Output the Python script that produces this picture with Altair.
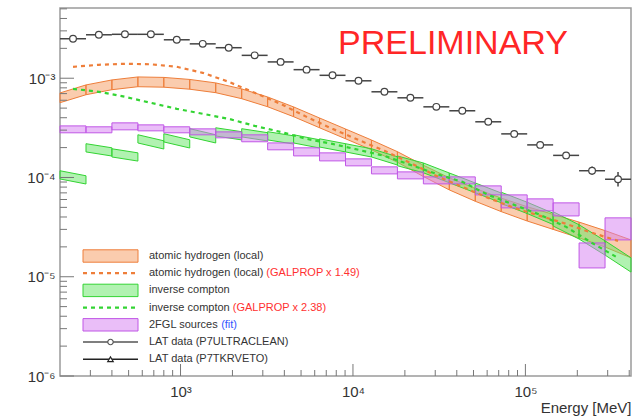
import altair as alt
import pandas as pd

FONT = "Liberation Sans"

# Energy binning [MeV]: factor sqrt(2) bins from 200 MeV
bin_edges = [200, 283, 400, 566, 800, 1131, 1600, 2263, 3200, 4525, 6400, 9051,
             12800, 18102, 25600, 36204, 51200, 72408, 102400, 144815, 204800,
             289631, 409600]
bin_centers = [238, 336, 476, 673, 951, 1345, 1903, 2691, 3805, 5382, 7611,
               10763, 15222, 21527, 30444, 43054, 60887, 86108, 121775,
               172216, 243550, 344432]

# LAT data (P7ULTRACLEAN): flux per bin and fractional error
lat_flux = [2.50e-3, 2.74e-3, 2.77e-3, 2.77e-3, 2.44e-3, 2.22e-3, 2.03e-3,
            1.70e-3, 1.46e-3, 1.22e-3, 1.07e-3, 9.42e-4, 7.30e-4, 6.35e-4,
            5.15e-4, 4.70e-4, 3.64e-4, 2.75e-4, 2.13e-4, 1.67e-4, 1.17e-4,
            9.6e-5]
lat_err = [0.02, 0.02, 0.02, 0.02, 0.02, 0.02, 0.02, 0.02, 0.02, 0.02, 0.02,
           0.02, 0.02, 0.02, 0.03, 0.03, 0.03, 0.04, 0.04, 0.06, 0.10, 0.18]

# Atomic hydrogen (local) fit: band centre at bin edges and fractional width
hi_flux = [6.35e-4, 7.64e-4, 8.58e-4, 9.20e-4, 9.10e-4, 8.68e-4, 8.01e-4,
           6.97e-4, 5.78e-4, 4.59e-4, 3.55e-4, 2.75e-4, 2.13e-4, 1.61e-4,
           1.166e-4, 8.62e-5, 6.68e-5, 5.30e-5, 4.30e-5, 3.57e-5, 2.96e-5,
           2.41e-5, 1.91e-5]
hi_err = [0.12, 0.12, 0.12, 0.12, 0.12, 0.12, 0.12, 0.12, 0.12, 0.12, 0.12,
          0.12, 0.12, 0.13, 0.14, 0.15, 0.16, 0.17, 0.18, 0.19, 0.20, 0.21,
          0.23]
# GALPROP atomic hydrogen x 1.49, at bin centres
hi_galprop = [1.304e-3, 1.366e-3, 1.398e-3, 1.382e-3, 1.304e-3, 1.134e-3,
              9.20e-4, 7.13e-4, 5.52e-4, 4.08e-4, 3.09e-4, 2.39e-4, 1.855e-4,
              1.404e-4, 1.038e-4, 8.04e-5, 6.23e-5, 4.94e-5, 4.10e-5, 3.41e-5,
              2.77e-5, 2.30e-5]

# Inverse Compton fit: band centre at each bin's low / high edge
ic_left = [1.063e-4, 1.99e-4, 1.77e-4, 2.45e-4, 2.51e-4, 2.82e-4, 2.88e-4,
           2.82e-4, 2.63e-4, 2.45e-4, 2.23e-4, 1.99e-4, 1.77e-4, 1.47e-4,
           1.25e-4, 9.91e-5, 7.86e-5, 6.23e-5, 4.94e-5, 3.83e-5, 2.83e-5,
           1.95e-5]
ic_right = [9.46e-5, 1.81e-4, 1.61e-4, 2.13e-4, 2.18e-4, 2.45e-4, 2.63e-4,
            2.57e-4, 2.39e-4, 2.18e-4, 1.99e-4, 1.77e-4, 1.47e-4, 1.25e-4,
            9.91e-5, 7.86e-5, 6.23e-5, 4.94e-5, 3.83e-5, 2.83e-5, 1.95e-5,
            1.315e-5]
ic_err = [0.10, 0.10, 0.10, 0.10, 0.10, 0.10, 0.10, 0.10, 0.10, 0.10, 0.10,
          0.10, 0.10, 0.12, 0.12, 0.12, 0.12, 0.14, 0.14, 0.18, 0.18, 0.18]
# GALPROP inverse Compton x 2.38, at bin centres
ic_galprop = [7.82e-4, 7.30e-4, 6.50e-4, 5.65e-4, 4.92e-4, 4.38e-4, 3.90e-4,
              3.31e-4, 2.88e-4, 2.45e-4, 2.18e-4, 1.90e-4, 1.65e-4, 1.34e-4,
              1.087e-4, 9.03e-5, 6.68e-5, 5.30e-5, 4.20e-5, 3.18e-5, 2.19e-5,
              1.548e-5]

# 2FGL sources (fit): lower / upper flux per bin
src_lo = [2.82e-4, 2.82e-4, 3.02e-4, 2.95e-4, 2.82e-4, 2.69e-4, 2.51e-4,
          2.29e-4, 1.90e-4, 1.65e-4, 1.47e-4, 1.31e-4, 1.087e-4, 9.68e-5,
          8.62e-5, 8.62e-5, 6.68e-5, 4.94e-5, 4.61e-5, 4.10e-5, 1.227e-5,
          2.35e-5]
src_hi = [3.31e-4, 3.24e-4, 3.55e-4, 3.39e-4, 3.24e-4, 3.09e-4, 2.88e-4,
          2.69e-4, 2.23e-4, 1.99e-4, 1.77e-4, 1.54e-4, 1.28e-4, 1.139e-4,
          1.014e-4, 1.014e-4, 8.23e-5, 6.68e-5, 6.09e-5, 5.55e-5, 2.19e-5,
          3.92e-5]

legend_labels = ["atomic hydrogen (local)", "atomic hydrogen (local)",
                 "inverse compton", "inverse compton", "2FGL sources",
                 "LAT data (P7ULTRACLEAN)", "LAT data (P7TKRVETO)"]
legend_notes = ["", "(GALPROP x 1.49)", "", "(GALPROP x 2.38)", "(fit)", "", ""]

# ---- colours -------------------------------------------------------------
ORANGE_FILL, ORANGE_LINE = "#F59A5E", "#EE7E3A"
GREEN_FILL, GREEN_LINE = "#63E563", "#33D433"
PURPLE_FILL, PURPLE_LINE = "#D57EF2", "#C057E6"
INK = "#333333"

# ---- tables --------------------------------------------------------------
n = len(bin_centers)
hi_rows, ic_rows = [], []
for i in range(n):
    for k in (i, i + 1):
        c, e = hi_flux[k], hi_err[k]
        hi_rows.append({"E": bin_edges[k], "lo": c / (1 + e), "hi": c * (1 + e), "bin": i})
    for E, c in ((bin_edges[i], ic_left[i]), (bin_edges[i + 1], ic_right[i])):
        e = ic_err[i]
        ic_rows.append({"E": E, "lo": c / (1 + e), "hi": c * (1 + e), "bin": i})
hi_df = pd.DataFrame(hi_rows)
ic_df = pd.DataFrame(ic_rows)

src_df = pd.DataFrame({"E": bin_edges[:-1], "E2": bin_edges[1:],
                       "lo": src_lo, "hi": src_hi})
gal_df = pd.DataFrame({"E": bin_centers, "hi_gal": hi_galprop, "ic_gal": ic_galprop})
lat_df = pd.DataFrame({
    "E": bin_centers, "Elo": bin_edges[:-1], "Ehi": bin_edges[1:],
    "F": lat_flux,
    "Flo": [f / (1 + e) for f, e in zip(lat_flux, lat_err)],
    "Fhi": [f * (1 + e) for f, e in zip(lat_flux, lat_err)],
})

# ---- scales and axes -----------------------------------------------------
x_scale = alt.Scale(type="log", domain=[200, 409600], nice=False)
y_scale = alt.Scale(type="log", domain=[1e-6, 5.1e-3], nice=False)

x_axis = alt.Axis(
    values=[1e3, 1e4, 1e5],
    labelExpr="datum.value == 1000 ? '10³' : datum.value == 10000 ? '10⁴' : '10⁵'",
    ticks=False, domain=False, grid=False,
    labelFont=FONT, labelFontSize=15, labelColor=INK, labelPadding=8,
    title="Energy [MeV]", titleFont=FONT, titleFontSize=15,
    titleFontWeight="normal", titleColor=INK, titleAnchor="end", titlePadding=1,
)
y_axis = alt.Axis(
    values=[1e-6, 1e-5, 1e-4, 1e-3],
    labelExpr=("datum.value < 2e-6 ? '10⁻⁶' : datum.value < 2e-5 ? '10⁻⁵' : "
               "datum.value < 2e-4 ? '10⁻⁴' : '10⁻³'"),
    ticks=False, domain=False, grid=False,
    labelFont=FONT, labelFontSize=15, labelColor=INK, labelPadding=5,
    title="",
)


def X(field):
    return alt.X(field, type="quantitative", scale=x_scale, axis=x_axis)


def Y(field):
    return alt.Y(field, type="quantitative", scale=y_scale, axis=y_axis)


# ---- model components ----------------------------------------------------
hi_band = alt.Chart(hi_df).mark_area(
    fill=ORANGE_FILL, fillOpacity=0.5, stroke=ORANGE_LINE, strokeWidth=1
).encode(x=X("E"), y=Y("lo"), y2="hi:Q", detail="bin:N")

ic_band = alt.Chart(ic_df).mark_area(
    fill=GREEN_FILL, fillOpacity=0.5, stroke=GREEN_LINE, strokeWidth=1
).encode(x=X("E"), y=Y("lo"), y2="hi:Q", detail="bin:N")

src_box = alt.Chart(src_df).mark_rect(
    fill=PURPLE_FILL, fillOpacity=0.5, stroke=PURPLE_LINE, strokeWidth=1
).encode(x=X("E"), x2="E2:Q", y=Y("lo"), y2="hi:Q")

hi_gal = alt.Chart(gal_df).mark_line(
    color=ORANGE_LINE, strokeWidth=2.2, strokeDash=[4, 4]
).encode(x=X("E"), y=Y("hi_gal"))

ic_gal = alt.Chart(gal_df).mark_line(
    color=GREEN_LINE, strokeWidth=2.2, strokeDash=[4, 4]
).encode(x=X("E"), y=Y("ic_gal"))

# ---- LAT data points -----------------------------------------------------
lat_h = alt.Chart(lat_df).mark_rule(color="#444", strokeWidth=1.5).encode(
    x=X("Elo"), x2="Ehi:Q", y=Y("F"))
lat_v = alt.Chart(lat_df).mark_rule(color="#444", strokeWidth=1.5).encode(
    x=X("E"), y=Y("Flo"), y2="Fhi:Q")
lat_pt = alt.Chart(lat_df).mark_point(
    shape="circle", filled=True, fill="white", stroke="#444",
    strokeWidth=1.2, size=45, opacity=1
).encode(x=X("E"), y=Y("F"))

# ---- inward ticks (ROOT style) -------------------------------------------
H = 368
x_major = [1e3, 1e4, 1e5]
x_minor = [m * 10 ** p for p in (2, 3, 4) for m in range(2, 10)
           if 200 < m * 10 ** p < 409600] + [2e5, 3e5, 4e5]
y_major = [1e-6, 1e-5, 1e-4, 1e-3]
y_minor = [m * 10.0 ** p for p in (-6, -5, -4, -3) for m in range(2, 10)
           if m * 10.0 ** p < 5.1e-3]

tick_col = "#777"
xt_major = alt.Chart(pd.DataFrame({"v": x_major})).mark_rule(color=tick_col, strokeWidth=1).encode(
    x=X("v"), y=alt.value(H), y2=alt.value(H - 12))
xt_minor = alt.Chart(pd.DataFrame({"v": x_minor})).mark_rule(color=tick_col, strokeWidth=1).encode(
    x=X("v"), y=alt.value(H), y2=alt.value(H - 6))
yt_major = alt.Chart(pd.DataFrame({"v": y_major})).mark_rule(color=tick_col, strokeWidth=1).encode(
    y=Y("v"), x=alt.value(0), x2=alt.value(14))
yt_minor = alt.Chart(pd.DataFrame({"v": y_minor})).mark_rule(color=tick_col, strokeWidth=1).encode(
    y=Y("v"), x=alt.value(0), x2=alt.value(7))

# ---- legend (drawn inside the frame, pixel layout) -----------------------
LEG_X0, LEG_X1, LEG_TX = 23, 78, 89
LEG_Y0, LEG_DY, LEG_H = 248, 17.2, 6.2
LEG_FS = 11

_W = {c: w for c, w in zip("abcdefghijklmnopqrstuvwxyz",
      [.556, .556, .5, .556, .556, .278, .556, .556, .222, .222, .5, .222, .833,
       .556, .556, .556, .556, .333, .5, .278, .556, .5, .722, .5, .5, .5])}
_W.update({c: w for c, w in zip("ABCDEFGHIJKLMNOPQRSTUVWXYZ",
      [.667, .667, .722, .722, .667, .611, .778, .722, .278, .5, .667, .556, .833,
       .722, .778, .667, .778, .722, .667, .611, .722, .667, .944, .667, .667, .611])})
_W.update({" ": .278, "(": .333, ")": .333, ".": .278})
_W.update({d: .556 for d in "0123456789"})


def text_width(s, size):
    return sum(_W.get(ch, .556) for ch in s) * size


rows = []
for i, (lab, note) in enumerate(zip(legend_labels, legend_notes)):
    rows.append({
        "row": i, "label": lab, "note": note,
        "y": LEG_Y0 + i * LEG_DY,
        "y0": LEG_Y0 + i * LEG_DY - LEG_H, "y1": LEG_Y0 + i * LEG_DY + LEG_H,
        "x0": LEG_X0, "x1": LEG_X1, "xm": (LEG_X0 + LEG_X1) / 2,
        "tx": LEG_TX, "nx": LEG_TX + text_width(lab + " ", LEG_FS),
    })
leg = pd.DataFrame(rows)
leg["fill"] = [ORANGE_FILL, "", GREEN_FILL, "", PURPLE_FILL, "", ""]
leg["line"] = [ORANGE_LINE, ORANGE_LINE, GREEN_LINE, GREEN_LINE, PURPLE_LINE, "#555", "#222"]
leg["ncol"] = ["#000", "#FF3030", "#000", "#FF3030", "#3355FF", "#000", "#000"]

px = lambda f: alt.X(f, type="quantitative", scale=None)
py = lambda f: alt.Y(f, type="quantitative", scale=None)

leg_box = alt.Chart(leg[leg["row"].isin([0, 2, 4])]).mark_rect(
    fillOpacity=0.5, strokeWidth=1
).encode(x=px("x0"), x2="x1:Q", y=py("y0"), y2="y1:Q",
         fill=alt.Fill("fill:N", scale=None), stroke=alt.Stroke("line:N", scale=None))
leg_dash = alt.Chart(leg[leg["row"].isin([1, 3])]).mark_rule(
    strokeWidth=2.2, strokeDash=[4, 4]
).encode(x=px("x0"), x2="x1:Q", y=py("y"), color=alt.Color("line:N", scale=None))
leg_lat = alt.Chart(leg[leg["row"].isin([5, 6])]).mark_rule(strokeWidth=1.5).encode(
    x=px("x0"), x2="x1:Q", y=py("y"), color=alt.Color("line:N", scale=None))
leg_mk1 = alt.Chart(leg[leg["row"] == 5]).mark_point(
    shape="circle", filled=True, fill="white", stroke="#555", strokeWidth=1.2, size=30, opacity=1
).encode(x=px("xm"), y=py("y"))
leg_mk2 = alt.Chart(leg[leg["row"] == 6]).mark_point(
    shape="triangle-up", filled=True, fill="white", stroke="#222", strokeWidth=1.2, size=30, opacity=1
).encode(x=px("xm"), y=py("y"))
leg_txt = alt.Chart(leg).mark_text(
    align="left", baseline="middle", font=FONT, fontSize=LEG_FS, color=INK
).encode(x=px("tx"), y=py("y"), text="label:N")
leg_note = alt.Chart(leg[leg["note"] != ""]).mark_text(
    align="left", baseline="middle", font=FONT, fontSize=LEG_FS
).encode(x=px("nx"), y=py("y"), text="note:N", color=alt.Color("ncol:N", scale=None))

prelim = alt.Chart(pd.DataFrame({"t": ["PRELIMINARY"]})).mark_text(
    font=FONT, fontSize=34, color="#FF2626", align="center", baseline="middle"
).encode(text="t:N", x=alt.value(393), y=alt.value(36))

chart = alt.layer(
    hi_band, ic_band, src_box, hi_gal, ic_gal,
    lat_h, lat_v, lat_pt,
    xt_major, xt_minor, yt_major, yt_minor,
    leg_box, leg_dash, leg_lat, leg_mk1, leg_mk2, leg_txt, leg_note,
    prelim,
).properties(
    width=571, height=368, autosize="none",
    padding={"left": 60, "top": 8, "right": 4, "bottom": 42},
    background="white",
).configure_view(stroke="#9a9a9a", strokeWidth=1.5)

chart.save("out.html", embed_options={"renderer": "svg", "actions": False})
